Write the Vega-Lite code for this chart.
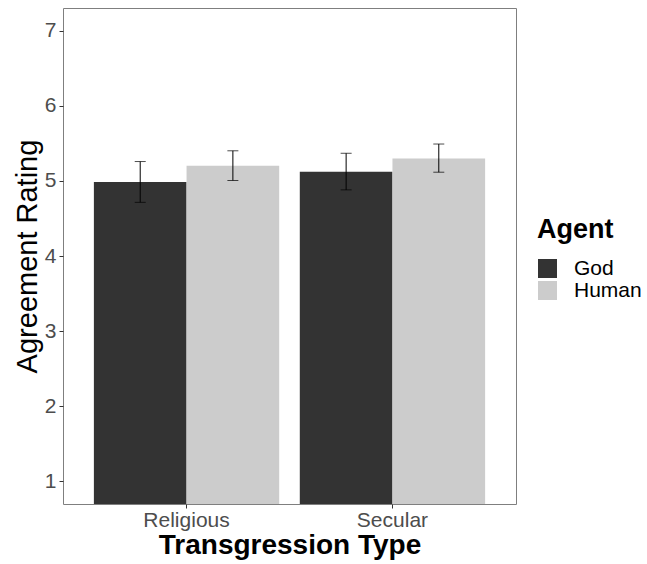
{
  "$schema": "https://vega.github.io/schema/vega-lite/v6.json",
  "width": 453,
  "height": 496,
  "autosize": {"type": "none"},
  "padding": {"left": 63, "top": 8, "right": 131, "bottom": 60},
  "config": {
    "font": "Liberation Sans",
    "view": {"stroke": "#7f7f7f", "strokeWidth": 1},
    "axis": {
      "grid": false,
      "domain": false,
      "tickColor": "#333333",
      "tickSize": 4,
      "labelColor": "#4d4d4d",
      "labelFontSize": 21,
      "titleColor": "#000000"
    }
  },
  "data": {
    "values": [
      {"Type": "Religious", "Agent": "God", "mean": 4.985, "low": 4.714, "high": 5.257},
      {"Type": "Religious", "Agent": "Human", "mean": 5.2, "low": 5.005, "high": 5.4},
      {"Type": "Secular", "Agent": "God", "mean": 5.12, "low": 4.88, "high": 5.367},
      {"Type": "Secular", "Agent": "Human", "mean": 5.296, "low": 5.115, "high": 5.49}
    ]
  },
  "encoding": {
    "x": {
      "field": "Type",
      "type": "nominal",
      "scale": {"paddingInner": 0.1, "paddingOuter": 0.15},
      "axis": {
        "title": "Transgression Type",
        "titleFontSize": 28,
        "titleFontWeight": "bold",
        "titleBaseline": "alphabetic",
        "titleY": 49,
        "labelAngle": 0,
        "labelBaseline": "alphabetic",
        "labelPadding": 18
      }
    },
    "xOffset": {"field": "Agent", "type": "nominal", "scale": {"paddingInner": 0, "paddingOuter": 0}}
  },
  "layer": [
    {
      "mark": {"type": "bar", "clip": true},
      "encoding": {
        "y": {
          "field": "mean",
          "type": "quantitative",
          "scale": {"domain": [0.7, 7.3], "nice": false, "zero": false},
          "axis": {
            "title": "Agreement Rating",
            "titleFontSize": 29,
            "titleFontWeight": "normal",
            "titleAngle": -90,
            "titleBaseline": "alphabetic",
            "titleAlign": "center",
            "titleX": -27,
            "titleY": 248,
            "values": [1, 2, 3, 4, 5, 6, 7],
            "format": "d",
            "labelPadding": 3
          }
        },
        "y2": {"datum": 0},
        "color": {
          "field": "Agent",
          "type": "nominal",
          "scale": {"domain": ["God", "Human"], "range": ["#333333", "#cccccc"]},
          "legend": {
            "orient": "none",
            "legendX": 474,
            "legendY": 209,
            "title": "Agent",
            "titleFontSize": 27,
            "titleFontWeight": "bold",
            "titleColor": "#000000",
            "titlePadding": 14,
            "labelFontSize": 21,
            "labelColor": "#000000",
            "symbolType": "square",
            "symbolSize": 361,
            "symbolStrokeWidth": 0,
            "symbolOpacity": 1,
            "labelOffset": 16,
            "rowPadding": 0
          }
        }
      }
    },
    {
      "mark": {"type": "rule", "color": "#000000", "strokeWidth": 1},
      "encoding": {
        "y": {"field": "low", "type": "quantitative"},
        "y2": {"field": "high"}
      }
    },
    {
      "mark": {"type": "tick", "color": "#000000", "orient": "horizontal", "size": 11, "thickness": 1},
      "encoding": {"y": {"field": "low", "type": "quantitative"}}
    },
    {
      "mark": {"type": "tick", "color": "#000000", "orient": "horizontal", "size": 11, "thickness": 1},
      "encoding": {"y": {"field": "high", "type": "quantitative"}}
    }
  ]
}
